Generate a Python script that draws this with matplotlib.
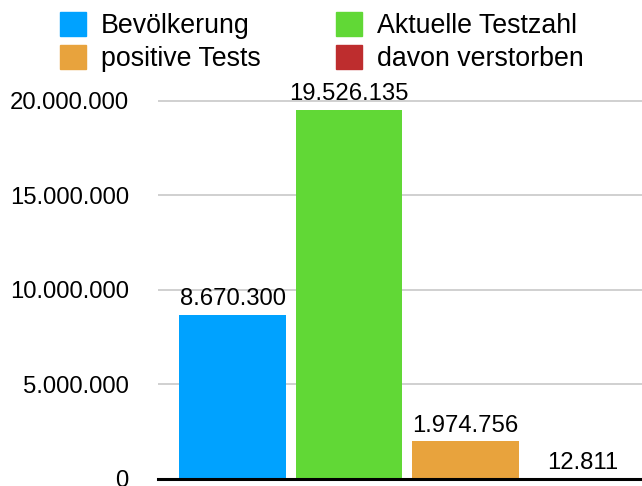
import matplotlib.pyplot as plt
from matplotlib.patches import Patch
from matplotlib.ticker import FuncFormatter

plt.rcParams['font.family'] = ['Liberation Sans', 'DejaVu Sans']

labels = ['Bevölkerung', 'Aktuelle Testzahl', 'positive Tests', 'davon verstorben']
values = [8670300, 19526135, 1974756, 12811]
colors = ['#00A2FF', '#61D836', '#E8A33D', '#BE2D2E']
yticks = [0, 5000000, 10000000, 15000000, 20000000]


def dotted(v, pos=None):
    return f'{int(v):,}'.replace(',', '.')


fig = plt.figure(figsize=(6.42, 4.86), dpi=100)
# axes placed in figure fractions to match the reference layout
ax = fig.add_axes([158 / 642, (486 - 478.7) / 486, 1 - 158 / 642, (478.7 - 90) / 486])

x = list(range(len(values)))
bars = ax.bar(x, values, width=0.915, color=colors, zorder=3)
for b, v in zip(bars, values):
    ax.annotate(dotted(v), (b.get_x() + b.get_width() / 2, v), xytext=(0, 3.5),
                textcoords='offset points', ha='center', va='bottom',
                fontsize=17.2, annotation_clip=False)

ax.set_xlim(-0.64, 3.513)
ax.set_ylim(0, 20.57e6)
ax.set_yticks(yticks)
ax.yaxis.set_major_formatter(FuncFormatter(dotted))
ax.tick_params(axis='y', length=0, pad=21, labelsize=17.2)
ax.tick_params(axis='x', length=0, labelbottom=False)
ax.grid(axis='y', color='#C8C8C8', linewidth=1.2, zorder=0)
for s in ['top', 'right', 'left']:
    ax.spines[s].set_visible(False)
ax.spines['bottom'].set_linewidth(2.2)
ax.spines['bottom'].set_zorder(4)

# reorder so matplotlib's column-first fill gives the row layout of the reference
order = [0, 2, 1, 3]
handles = [Patch(color=colors[i]) for i in order]
fig.legend(handles, [labels[i] for i in order], ncol=2, loc='upper left',
           bbox_to_anchor=(49 / 642, 1 - 1.5 / 486), frameon=False, fontsize=19.3,
           handlelength=0.97, handleheight=0.97, handletextpad=0.56,
           columnspacing=2.8, labelspacing=0.22, borderpad=0.4, borderaxespad=0)

fig.savefig('out.png', dpi=100)
